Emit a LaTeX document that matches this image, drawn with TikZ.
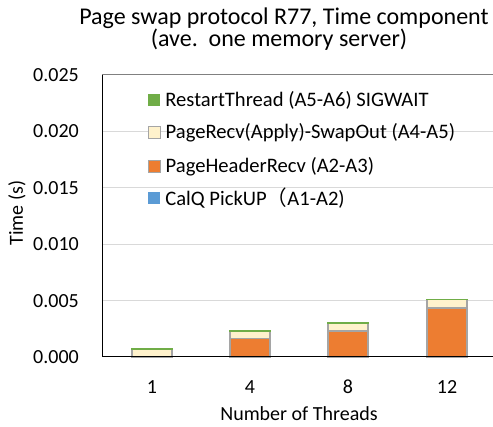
\documentclass[tikz,border=0pt]{standalone}
\usepackage{fontspec}
\setmainfont{Carlito}
\newfontfamily\cjkfont{Noto Sans CJK SC}
\usetikzlibrary{positioning}
\definecolor{restartgreen}{HTML}{70AD47}
\definecolor{recvcream}{HTML}{FFF2CC}
\definecolor{headerorange}{HTML}{ED7D31}
\definecolor{calqblue}{HTML}{5B9BD5}
\definecolor{gridgray}{HTML}{D9D9D9}
\definecolor{edgegray}{HTML}{A5A5A5}

\begin{document}
\begin{tikzpicture}[x=1pt, y=-1pt, font=\fontsize{20}{24}\selectfont,
  tick/.style={anchor=east, inner sep=0pt},
  seg/.style={draw=edgegray, line width=1.3pt},
  swatch/.style={minimum size=12pt, inner sep=0pt},
  entry/.style={anchor=west, inner sep=0pt, font=\fontsize{20.6}{24}\selectfont}]
  \useasboundingbox (0,0) rectangle (493,427);
  % title
  \node[font=\fontsize{24}{28}\selectfont, anchor=base] (title1) at (284,25) {Page swap protocol R77, Time component};
  \node[font=\fontsize{24}{28}\selectfont, anchor=base] (title2) at (279,47) {(ave.\ \ one memory server)};
  % gridlines
  \foreach \v in {1,...,4}
    \draw[gridgray, line width=1pt] (102,357-56.4*\v) -- (493,357-56.4*\v);
  \draw[gray, line width=1pt] (102,75) -- (493,75);
  % tick labels
  \foreach \v/\t in {0/0.000, 1/0.005, 2/0.010, 3/0.015, 4/0.020, 5/0.025}
    \node[tick] (tick\v) at (79,357-56.4*\v) {\t};
  % stacked bars (values in ms)
  \foreach \i/\x/\n/\o/\c in {1/152/1/0/0.65, 2/250/4/1.62/0.64, 3/348/8/2.30/0.66, 4/447/12/4.34/0.73} {
    \pgfmathsetmacro\yo{357-11.28*\o}
    \pgfmathsetmacro\yc{\yo-11.28*\c}
    \ifnum\i>1
      \filldraw[seg, fill=headerorange] (\x-20,357) rectangle (\x+20,\yo);
    \fi
    \filldraw[seg, fill=recvcream] (\x-20,\yo) rectangle (\x+20,\yc);
    \draw[restartgreen, line width=1.5pt] (\x-20.6,\yc-0.5) -- (\x+20.6,\yc-0.5);
    \node (cat\i) at (\x,387) {\n};
  }
  % axes
  \coordinate (origin) at (102,357);
  \coordinate (ytop) at (102,75);
  \coordinate (xend) at (493,357);
  \draw[line width=1pt] (ytop) -- (origin) -- (xend);
  \node (xlabel) at (299,414) {Number of Threads};
  \node[rotate=90] (ylabel) at (17,213) {Time (s)};
  % legend
  \node[swatch, fill=restartgreen] (keyrestart) at (154,100) {};
  \node[swatch, fill=recvcream, draw=edgegray, line width=1pt] (keyrecv) at (154,133) {};
  \node[swatch, fill=headerorange, draw=edgegray, line width=1pt] (keyheader) at (154,167) {};
  \node[swatch, fill=calqblue] (keycalq) at (154,198) {};
  \node[entry, right=5pt of keyrestart] (txtrestart) {RestartThread (A5-A6) SIGWAIT};
  \node[entry, right=5pt of keyrecv] (txtrecv) {PageRecv(Apply)-SwapOut (A4-A5)};
  \node[entry, right=5pt of keyheader] (txtheader) {PageHeaderRecv (A2-A3)};
  \node[entry, right=5pt of keycalq] (txtcalq) {CalQ PickUP{\cjkfont （}A1-A2)};
\end{tikzpicture}
\end{document}
